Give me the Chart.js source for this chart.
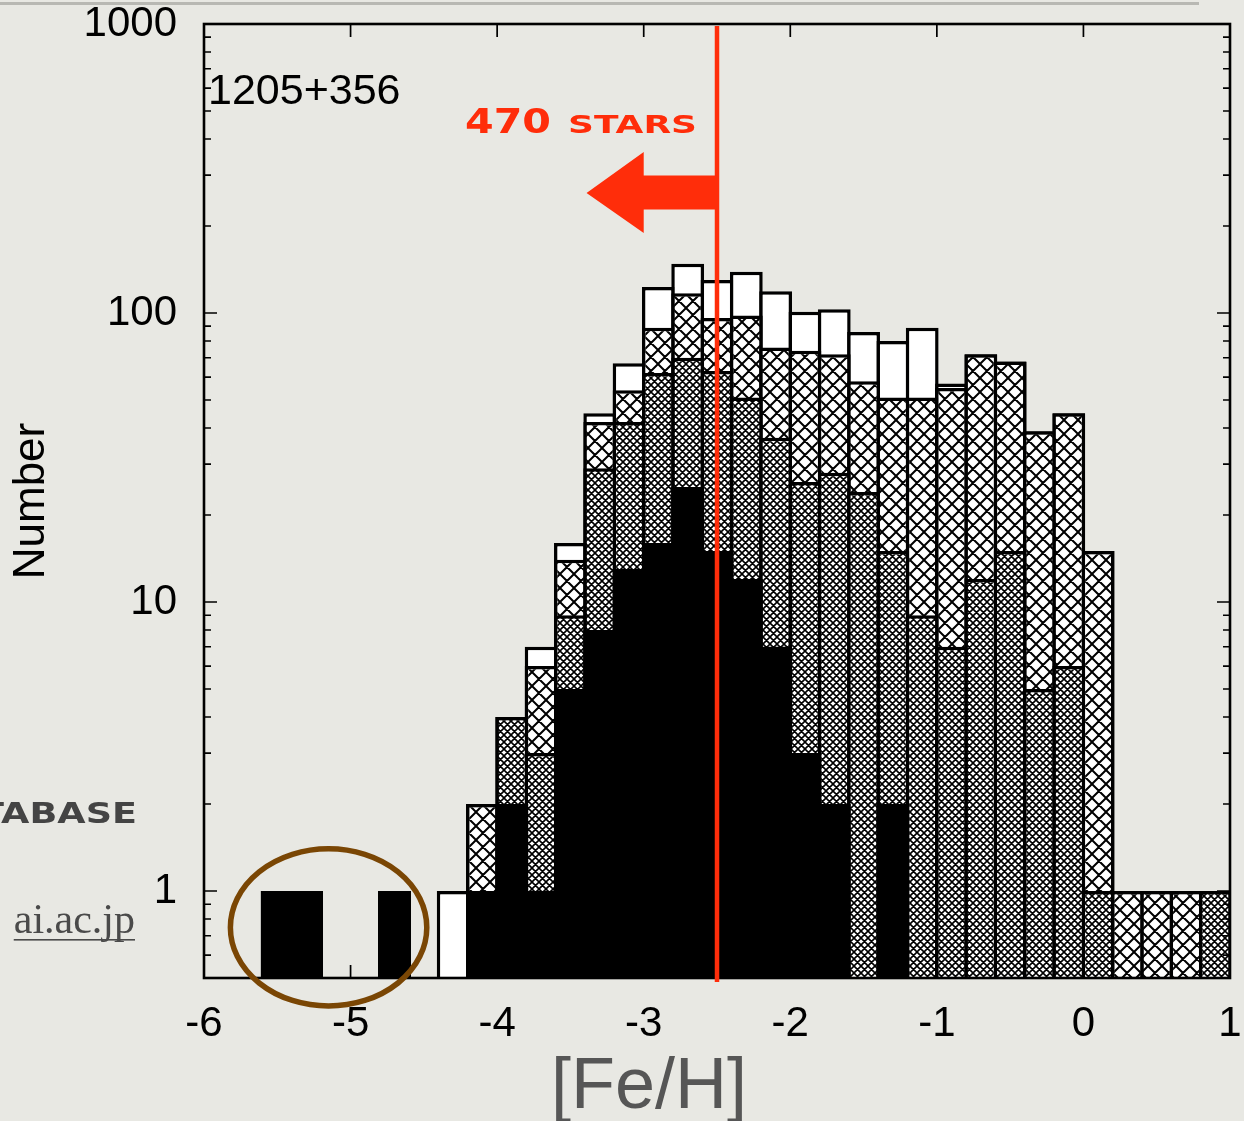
<!DOCTYPE html>
<html>
<head>
<meta charset="utf-8">
<title>[Fe/H] distribution</title>
<script src="https://cdn.jsdelivr.net/npm/chart.js@4/dist/chart.umd.min.js"></script>
<style>
  html, body { margin: 0; padding: 0; background: #e8e8e3; overflow: hidden; }
  canvas { display: block; }
</style>
</head>
<body>
<canvas id="c" width="1244" height="1121"></canvas>
<script>
// Metallicity histogram, 0.2 dex bins (bin centres)
const binCenters = [-5.5, -5.3, -5.1, -4.9, -4.7, -4.5, -4.3, -4.1, -3.9, -3.7, -3.5,
                    -3.3, -3.1, -2.9, -2.7, -2.5, -2.3, -2.1, -1.9, -1.7, -1.5, -1.3,
                    -1.1, -0.9, -0.7, -0.5, -0.3, -0.1, 0.1, 0.3, 0.5, 0.7, 0.9];

// Nested samples: all stars ⊇ sparse-hatched ⊇ dense-hatched ⊇ black
const totalCounts  = [1, 1, 0, 0, 1, 0, 1, 2, 4, 7, 16, 45, 67, 123, 148, 130, 139, 119, 101, 103,
                      86, 80, 89, 57, 72, 68, 39, 45, 15, 1, 1, 1, 1];
const sparseCounts = [1, 1, 0, 0, 1, 0, 0, 2, 4, 6, 14, 42, 54, 89, 117, 96, 98, 76, 74, 72,
                      58, 51, 51, 55, 72, 68, 39, 45, 15, 1, 1, 1, 1];
const denseCounts  = [1, 1, 0, 0, 1, 0, 0, 1, 4, 3, 9, 29, 42, 62, 70, 63, 51, 37, 26, 28,
                      24, 15, 9, 7, 12, 15, 5, 6, 1, 0, 0, 0, 1];
const blackCounts  = [1, 1, 0, 0, 1, 0, 0, 1, 2, 1, 5, 8, 13, 16, 25, 15, 12, 7, 3, 2,
                      0, 2, 0, 0, 0, 0, 0, 0, 0, 0, 0, 0, 0];

// Axis ticks
const xTickValues = [-6, -5, -4, -3, -2, -1, 0, 1];
const yMajorTicks = [1, 10, 100, 1000];
const yMinorTicks = [0.6, 0.7, 0.8, 0.9,
                     2, 3, 4, 5, 6, 7, 8, 9,
                     20, 30, 40, 50, 60, 70, 80, 90,
                     200, 300, 400, 500, 600, 700, 800, 900];

// Annotations
const cutoffFeH = -2.5;
const starsLabel = ['470', 'stars'];
const fieldLabel = '1205+356';

const SANS = '"Liberation Sans", Arial, Helvetica, sans-serif';
const RED = '#ff2d0a';
const OUTLINE = 3.5;          // box outline width, shared by neighbouring boxes
const BIN_PX = 1026 * 0.2 / 7; // nominal bin width on the x axis, in pixels

const canvas = document.getElementById('c');
const ctx0 = canvas.getContext('2d');

// cross-hatch fill: white tile with both diagonals
function crossHatch(period, lw) {
  const t = document.createElement('canvas');
  t.width = t.height = period;
  const g = t.getContext('2d');
  g.fillStyle = '#ffffff';
  g.fillRect(0, 0, period, period);
  g.strokeStyle = '#000000';
  g.lineWidth = lw;
  g.beginPath();
  for (const o of [-period, 0, period]) {
    g.moveTo(o, 0); g.lineTo(o + period, period);
    g.moveTo(o + period, 0); g.lineTo(o, period);
  }
  g.stroke();
  return ctx0.createPattern(t, 'repeat');
}
const sparseFill = crossHatch(14, 2.0);
const denseFill = crossHatch(7, 1.6);

function toPoints(counts) {
  return binCenters.map((x, i) => ({ x: x, y: counts[i] > 0 ? counts[i] : null }));
}

function barSet(label, counts, fill, order, outline) {
  return {
    label: label,
    data: toPoints(counts),
    backgroundColor: fill,
    borderColor: '#000000',
    borderWidth: outline,
    borderSkipped: 'start',
    inflateAmount: 0,
    grouped: false,
    barPercentage: 1 + OUTLINE / BIN_PX,
    categoryPercentage: 1.0,
    order: order
  };
}

// stretched text, left aligned at x, alphabetic baseline at y
function wideText(ctx, str, x, y, font, width) {
  ctx.font = font;
  const w = ctx.measureText(str).width;
  ctx.save();
  ctx.translate(x, y);
  ctx.scale(width / w, 1);
  ctx.textAlign = 'left';
  ctx.textBaseline = 'alphabetic';
  ctx.fillText(str, 0, 0);
  ctx.restore();
}

const decorations = {
  id: 'decorations',
  beforeDraw(chart) {
    const ctx = chart.ctx;
    ctx.save();
    // rule across the top of the slide
    ctx.fillStyle = '#b8b8b3';
    ctx.fillRect(0, 2, 1199, 3);
    // slide text at the left edge
    ctx.fillStyle = '#444444';
    const dbW = 158;
    wideText(ctx, 'TABASE', 137 - dbW, 823, 'bold 29px "DejaVu Sans", sans-serif', dbW);
    ctx.fillStyle = '#4a4a4a';
    ctx.font = '42px "Liberation Serif", "Times New Roman", serif';
    ctx.textAlign = 'right';
    ctx.textBaseline = 'alphabetic';
    ctx.fillText('ai.ac.jp', 135, 933);
    const uw = ctx.measureText('ai.ac.jp').width;
    ctx.fillRect(135 - uw, 939, uw, 1.6);
    ctx.restore();
  },
  afterDatasetsDraw(chart) {
    const { ctx, chartArea: a, scales: { x, y } } = chart;
    ctx.save();
    // frame
    ctx.strokeStyle = '#000000';
    ctx.lineWidth = 2.6;
    ctx.strokeRect(a.left, a.top, a.right - a.left, a.bottom - a.top);
    // inward ticks on all four sides
    ctx.lineWidth = 1.7;
    ctx.beginPath();
    for (const v of xTickValues) {
      const px = x.getPixelForValue(v);
      ctx.moveTo(px, a.bottom); ctx.lineTo(px, a.bottom - 13);
      ctx.moveTo(px, a.top); ctx.lineTo(px, a.top + 13);
    }
    for (const t of y.ticks) {
      const py = y.getPixelForValue(t.value);
      const len = yMajorTicks.includes(t.value) ? 13 : 7;
      ctx.moveTo(a.left, py); ctx.lineTo(a.left + len, py);
      ctx.moveTo(a.right, py); ctx.lineTo(a.right - len, py);
    }
    ctx.stroke();

    // metallicity cut
    const cx = x.getPixelForValue(cutoffFeH);
    ctx.strokeStyle = RED;
    ctx.lineWidth = 4.5;
    ctx.beginPath();
    ctx.moveTo(cx, a.top + 2);
    ctx.lineTo(cx, a.bottom + 4);
    ctx.stroke();

    // arrow pointing to the metal-poor side
    const tipX = x.getPixelForValue(-3.39);
    const headX = x.getPixelForValue(-3.0);
    const yc = y.getPixelForValue(260);
    const sT = y.getPixelForValue(299), sB = y.getPixelForValue(228);
    const hT = y.getPixelForValue(361), hB = y.getPixelForValue(189);
    ctx.fillStyle = RED;
    ctx.beginPath();
    ctx.moveTo(tipX, yc);
    ctx.lineTo(headX, hT);
    ctx.lineTo(headX, sT);
    ctx.lineTo(cx, sT);
    ctx.lineTo(cx, sB);
    ctx.lineTo(headX, sB);
    ctx.lineTo(headX, hB);
    ctx.closePath();
    ctx.fill();

    // "470 stars"
    const base = a.top + 109;
    wideText(ctx, starsLabel[0], cx - 252, base, 'bold 34px "DejaVu Sans", sans-serif', 86);
    wideText(ctx, starsLabel[1].toUpperCase(), cx - 149, base, 'bold 25px "DejaVu Sans", sans-serif', 129);

    // field name
    ctx.fillStyle = '#000000';
    ctx.font = '43px ' + SANS;
    ctx.textAlign = 'left';
    ctx.textBaseline = 'alphabetic';
    ctx.fillText(fieldLabel, a.left + 4, a.top + 80);
    ctx.restore();
  },
  afterDraw(chart) {
    const { ctx, scales: { x, y } } = chart;
    ctx.save();
    // x-axis title
    ctx.fillStyle = '#565656';
    ctx.font = '72px ' + SANS;
    ctx.textAlign = 'center';
    ctx.textBaseline = 'alphabetic';
    ctx.fillText('[Fe/H]', 649, 1108);
    // ring around the most iron-poor stars
    const x0 = x.getPixelForValue(-5.82), x1 = x.getPixelForValue(-4.48);
    const y0 = y.getPixelForValue(1.40), y1 = y.getPixelForValue(0.40);
    ctx.strokeStyle = '#7a4604';
    ctx.lineWidth = 5.5;
    ctx.beginPath();
    ctx.ellipse((x0 + x1) / 2, (y0 + y1) / 2, (x1 - x0) / 2, (y1 - y0) / 2, 0, 0, Math.PI * 2);
    ctx.stroke();
    ctx.restore();
  }
};

new Chart(canvas, {
  type: 'bar',
  data: {
    datasets: [
      barSet('all', totalCounts, '#ffffff', 3, OUTLINE),
      barSet('sparse', sparseCounts, sparseFill, 2, OUTLINE),
      barSet('dense', denseCounts, denseFill, 1, OUTLINE),
      barSet('black', blackCounts, '#000000', 0, 0)
    ]
  },
  options: {
    responsive: false,
    animation: false,
    devicePixelRatio: 1,
    layout: { padding: { top: 24, right: 14, bottom: 0, left: 0 } },
    plugins: { legend: { display: false }, tooltip: { enabled: false } },
    scales: {
      x: {
        type: 'linear',
        min: -6,
        max: 1,
        offset: false,
        grid: { display: false, drawTicks: false, offset: false },
        border: { display: false },
        afterFit: s => { s.height = 143; s.paddingLeft = 0; s.paddingRight = 0; },
        afterBuildTicks: s => { s.ticks = xTickValues.map(v => ({ value: v })); },
        ticks: {
          autoSkip: false,
          maxRotation: 0,
          padding: 21,
          color: '#000000',
          font: { family: SANS, size: 42, lineHeight: 1.2 },
          callback: v => String(v)
        }
      },
      y: {
        type: 'logarithmic',
        min: 0.5,
        max: 1000,
        grid: { display: false, drawTicks: false },
        border: { display: false },
        afterFit: s => { s.width = 204; s.paddingTop = 0; s.paddingBottom = 0; },
        afterBuildTicks: s => {
          s.ticks = yMinorTicks.concat(yMajorTicks).sort((p, q) => p - q)
            .map(v => ({ value: v, major: yMajorTicks.includes(v) }));
        },
        ticks: {
          autoSkip: false,
          padding: 27,
          color: '#000000',
          font: { family: SANS, size: 42, lineHeight: 1 },
          callback: v => (yMajorTicks.includes(v) ? String(v) : '')
        },
        title: {
          display: true,
          text: 'Number',
          color: '#000000',
          font: { family: SANS, size: 44, lineHeight: 1.2 },
          padding: { top: 5, bottom: 0 }
        }
      }
    }
  },
  plugins: [decorations]
});
</script>
</body>
</html>
